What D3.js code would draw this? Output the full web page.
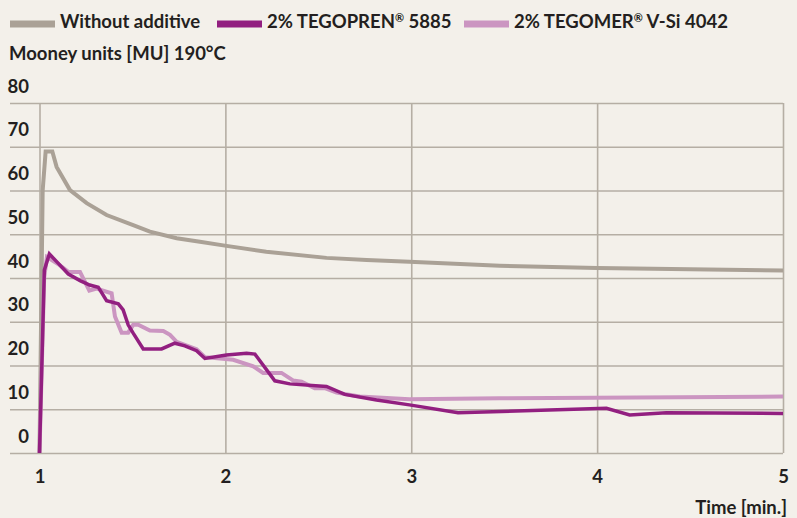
<!DOCTYPE html>
<html>
<head>
<meta charset="utf-8">
<script src="https://cdn.jsdelivr.net/npm/d3@7"></script>
<style>
  body { margin: 0; background: #f3f0ea; }
  svg { display: block; font-family: Lato, "Open Sans", sans-serif; font-weight: bold; }
</style>
</head>
<body>
<div id="chart"></div>
<script>
// series: [time in min, Mooney units]
const withoutAdditive = [
  [1.0, 0], [1.017, 60], [1.033, 68.9], [1.069, 68.9], [1.092, 65.4], [1.164, 60.1],
  [1.254, 57.1], [1.361, 54.4], [1.504, 52.1], [1.594, 50.6], [1.738, 49.1], [1.863, 48.3],
  [1.997, 47.4], [2.22, 46.0], [2.544, 44.6], [2.76, 44.1], [2.99, 43.7], [3.476, 42.8],
  [4.0, 42.3], [5.0, 41.7]
];
const tegopren = [
  [1.0, 0], [1.026, 41.8], [1.053, 45.5], [1.10, 43.4], [1.155, 40.9], [1.218, 39.4],
  [1.27, 38.4], [1.316, 37.9], [1.361, 34.8], [1.424, 34.1], [1.45, 32.7], [1.477, 29.3],
  [1.504, 27.4], [1.558, 23.8], [1.657, 23.8], [1.728, 25.1], [1.782, 24.5], [1.845, 23.4],
  [1.89, 21.6], [2.006, 22.4], [2.114, 22.8], [2.159, 22.6], [2.266, 16.5], [2.347, 15.8],
  [2.544, 15.2], [2.642, 13.4], [2.813, 12.1], [2.99, 11.0], [3.252, 9.2], [4.05, 10.2],
  [4.175, 8.7], [4.372, 9.2], [5.0, 9.05]
];
const tegomer = [
  [1.0, 0], [1.025, 40], [1.04, 44.8], [1.10, 43.2], [1.155, 41.4], [1.218, 41.4],
  [1.268, 37.1], [1.307, 37.6], [1.388, 36.5], [1.406, 31.2], [1.442, 27.5], [1.477, 27.5],
  [1.504, 29.3], [1.531, 29.3], [1.594, 28.0], [1.666, 27.9], [1.702, 27.0], [1.738, 25.4],
  [1.845, 23.7], [1.89, 21.9], [2.042, 21.3], [2.15, 19.8], [2.203, 18.3], [2.302, 18.3],
  [2.364, 16.6], [2.41, 16.3], [2.481, 14.8], [2.535, 14.8], [2.598, 13.8], [2.723, 12.9],
  [2.99, 12.3], [3.476, 12.5], [5.0, 12.9]
];

const legendLabels = ["Without additive", "2% TEGOPREN® 5885", "2% TEGOMER® V-Si 4042"];
const xTicks = [1, 2, 3, 4, 5];
const yTicks = [0, 10, 20, 30, 40, 50, 60, 70, 80];

const colors = ["#aaa196", "#921f80", "#cb95c1"];
const textColor = "#231f20";
const gridColor = "#b5aea4";
const fontSize = "18.5px";

const svg = d3.select("#chart").append("svg")
    .attr("width", 797)
    .attr("height", 518);

svg.append("rect").attr("width", 797).attr("height", 518).attr("fill", "#f3f0ea");

const x = d3.scaleLinear().domain([1, 5]).range([39.5, 783]);
const y = d3.scaleLinear().domain([0, 80]).range([453, 103]);

// horizontal grid + y labels
const yAxis = svg.append("g")
    .attr("transform", "translate(10,0)")
    .call(d3.axisLeft(y).tickValues(yTicks).tickSize(-773).tickPadding(-19));
yAxis.select(".domain").remove();
yAxis.selectAll("line").attr("stroke", gridColor).attr("stroke-width", 1.6);
yAxis.selectAll("text")
    .attr("dy", -11)
    .attr("fill", textColor)
    .style("font-size", fontSize)
    .style("font-family", "Lato, sans-serif");

// vertical grid + x labels
const xAxis = svg.append("g")
    .attr("transform", "translate(0,453)")
    .call(d3.axisBottom(x).tickValues(xTicks).tickFormat(d3.format("d")).tickSize(-350));
xAxis.select(".domain").remove();
xAxis.selectAll("line").attr("stroke", gridColor).attr("stroke-width", 1.6);
xAxis.selectAll("text")
    .attr("y", 30)
    .attr("dy", 0)
    .attr("fill", textColor)
    .style("font-size", fontSize)
    .style("font-family", "Lato, sans-serif");

// lines
const line = d3.line().x(d => x(d[0])).y(d => y(d[1]));
const series = [
  { data: withoutAdditive, color: colors[0], w: 4 },
  { data: tegomer, color: colors[2], w: 4 },
  { data: tegopren, color: colors[1], w: 3.5 }
];
svg.selectAll("path.series")
    .data(series)
    .join("path")
    .attr("class", "series")
    .attr("d", d => line(d.data))
    .attr("fill", "none")
    .attr("stroke", d => d.color)
    .attr("stroke-width", d => d.w);

// legend
const legendX = [10, 217, 464];
const leg = svg.selectAll("g.leg")
    .data(legendLabels)
    .join("g")
    .attr("class", "leg")
    .attr("transform", (d, i) => `translate(${legendX[i]},0)`);
leg.append("rect")
    .attr("x", 0).attr("y", 20.5)
    .attr("width", 45).attr("height", 7)
    .attr("fill", (d, i) => colors[i]);
const legText = leg.append("text")
    .attr("x", 50).attr("y", 27.5)
    .attr("fill", textColor)
    .style("font-size", fontSize);
// small superscript ®
legText.each(function(d) {
  const t = d3.select(this);
  const parts = d.split("®");
  parts.forEach((p, i) => {
    const ts = t.append("tspan").text(p);
    if (i > 0) ts.attr("dy", 6);
    if (i < parts.length - 1) {
      t.append("tspan").attr("dy", -6).style("font-size", "11px").text("®");
    }
  });
});

// axis titles
svg.append("text")
    .attr("x", 9).attr("y", 60)
    .attr("fill", textColor)
    .style("font-size", fontSize)
    .text("Mooney units [MU] 190°C");

svg.append("text")
    .attr("x", 787).attr("y", 514)
    .attr("text-anchor", "end")
    .attr("fill", textColor)
    .style("font-size", fontSize)
    .text("Time [min.]");
</script>
</body>
</html>
